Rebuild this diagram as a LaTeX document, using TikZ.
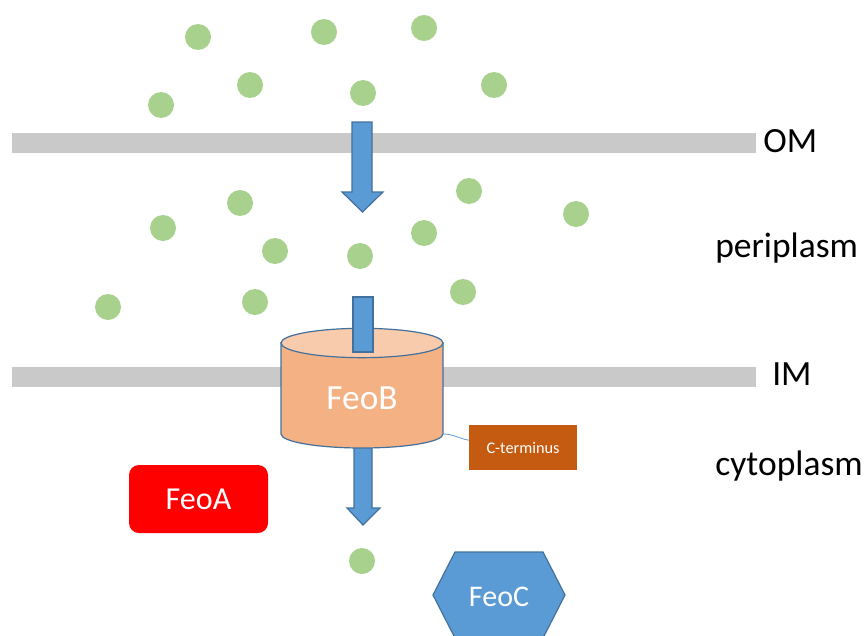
\documentclass[tikz,border=0pt]{standalone}
\usepackage{fontspec}
\setmainfont{Carlito}
\definecolor{barGray}{HTML}{C9C9C9}
\definecolor{ironGreen}{HTML}{A9D18E}
\definecolor{accBlue}{HTML}{5B9BD5}
\definecolor{edgeBlue}{HTML}{41719C}
\definecolor{cylBody}{HTML}{F4B183}
\definecolor{cylTop}{HTML}{F8CBAD}
\definecolor{ctermOr}{HTML}{C55A11}
\tikzset{
  ion/.style={circle, fill=ironGreen, draw=none, minimum size=19.5pt, inner sep=0pt},
  membrane/.style={fill=barGray, draw=none},
  blockarrow/.style={fill=accBlue, draw=edgeBlue, line width=0.9pt, line join=miter},
  region/.style={anchor=base west, inner sep=0pt, font=\fontsize{26.6}{30}\selectfont, text=black},
  whitetext/.style={text=white, inner sep=0pt}
}
\begin{document}
\begin{tikzpicture}[x=0.75pt, y=-0.75pt]
\useasboundingbox (0,0) rectangle (866,635);
\begin{scope}
\clip (0,0) rectangle (866,635);
% membranes
\fill[membrane] (12,133) rectangle (756,153);
\fill[membrane] (12,367) rectangle (756,387);
% labels
\node[region] (om) at (763,152) {OM};
\node[region] (peri) at (715,257) {periplasm};
\node[region] (im) at (772,385) {IM};
\node[region] (cyto) at (715,475) {cytoplasm};
% ions outside
\node[ion] (i1) at (198,37) {};
\node[ion] (i2) at (324,32) {};
\node[ion] (i3) at (424,28) {};
\node[ion] (i4) at (250,85) {};
\node[ion] (i5) at (363,93) {};
\node[ion] (i6) at (494,85) {};
\node[ion] (i7) at (161,105) {};
% ions periplasm
\node[ion] (p1) at (240,203) {};
\node[ion] (p2) at (469,191) {};
\node[ion] (p3) at (576,214) {};
\node[ion] (p4) at (163,228) {};
\node[ion] (p5) at (424,233) {};
\node[ion] (p6) at (275,251) {};
\node[ion] (p7) at (360,256) {};
\node[ion] (p8) at (108,307) {};
\node[ion] (p9) at (255,302) {};
\node[ion] (p10) at (463,292) {};
% ion cytoplasm
\node[ion] (c1) at (362,561) {};
% arrow through OM
\draw[blockarrow] (352,122) -- (372,122) -- (372,192) -- (383,192) -- (362.5,212) -- (342,192) -- (352,192) -- cycle;
% arrow out of FeoB
\draw[blockarrow] (354,440) -- (372,440) -- (372,508) -- (380,508) -- (363,525) -- (347,508) -- (354,508) -- cycle;
% FeoB cylinder
\draw[fill=cylBody, draw=edgeBlue, line width=0.9pt] (281,343) -- (281,434) arc[start angle=180, end angle=360, x radius=60.75pt, y radius=10.5pt] -- (443,343) -- cycle;
\draw[fill=cylTop, draw=edgeBlue, line width=0.9pt] (362,343) ellipse[x radius=60.75pt, y radius=11pt];
\node[whitetext, font=\fontsize{26.5}{30}\selectfont] (feob) at (362,398) {FeoB};
% arrow into FeoB
\draw[blockarrow] (353,297) rectangle (373,352);
% C-terminus
\node[fill=ctermOr, draw=none, minimum width=81pt, minimum height=33.75pt, inner sep=0pt, text=white, font=\fontsize{12.2}{14}\selectfont] (cterm) at (523,447.5) {C-terminus};
\coordinate (cylR) at (443,434);
\draw[accBlue, line width=0.6pt] (cylR) to[out=0, in=170] ([yshift=5.5pt]cterm.west);
% FeoA
\node[fill=red, draw=none, rounded corners=7.5pt, minimum width=104.25pt, minimum height=51pt, inner sep=0pt, text=white, font=\fontsize{24}{28}\selectfont] (feoa) at (198.5,499) {FeoA};
% FeoC hexagon
\draw[fill=accBlue, draw=edgeBlue, line width=0.9pt] (433,595) -- (455,552) -- (543,552) -- (565,595) -- (543,638) -- (455,638) -- cycle;
\node[whitetext, font=\fontsize{22.5}{26}\selectfont] (feoc) at (499,597) {FeoC};
\end{scope}
\end{tikzpicture}
\end{document}
